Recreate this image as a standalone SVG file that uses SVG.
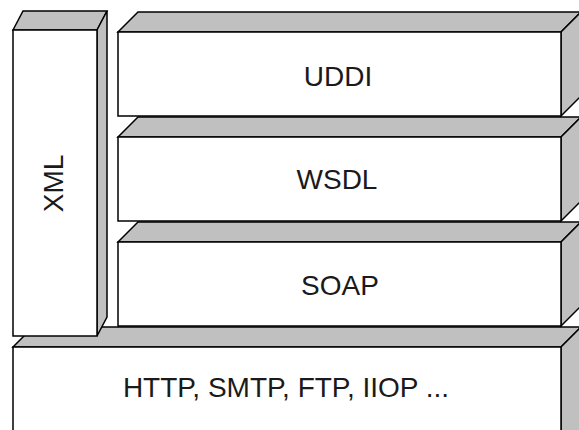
<svg xmlns="http://www.w3.org/2000/svg" width="579" height="430" viewBox="0 0 579 430">
<style>
.face{fill:#ffffff;stroke:#000;stroke-width:1.5;stroke-linejoin:miter}
.shade{fill:#c0c0c0;stroke:#000;stroke-width:1.5;stroke-linejoin:miter}
.lbl{font-family:"Liberation Sans",Arial,sans-serif;font-size:28px;fill:#1a1a1a;text-anchor:middle}
</style>
<rect width="579" height="430" fill="#fff"/>
<g id="http">
<polygon class="shade" points="13,347 33,327 581,327 561,347"/>
<polygon class="shade" points="561,347 581,327 581,450 561,450"/>
<rect class="face" x="13" y="347" width="548" height="100"/>
<text class="lbl" x="286" y="397">HTTP, SMTP, FTP, IIOP ...</text>
</g>
<g id="soap">
<polygon class="shade" points="118,242 138,222 581,222 561,242"/>
<polygon class="shade" points="561,242 581,222 581,306 561,326"/>
<rect class="face" x="118" y="242" width="443" height="84"/>
<text class="lbl" x="340" y="295">SOAP</text>
</g>
<g id="wsdl">
<polygon class="shade" points="118,137 138,117 581,117 561,137"/>
<polygon class="shade" points="561,137 581,117 581,201 561,221"/>
<rect class="face" x="118" y="137" width="443" height="84"/>
<text class="lbl" x="337" y="189">WSDL</text>
</g>
<g id="uddi">
<polygon class="shade" points="118,32 138,12 581,12 561,32"/>
<polygon class="shade" points="561,32 581,12 581,96 561,116"/>
<rect class="face" x="118" y="32" width="443" height="84"/>
<text class="lbl" x="338" y="86">UDDI</text>
</g>
<g id="xml">
<polygon class="shade" points="13,30 23,11 107,11 97,30"/>
<polygon class="shade" points="97,30 107,11 107,317 97,336"/>
<rect class="face" x="13" y="30" width="84" height="306"/>
<text class="lbl" transform="translate(63,183.5) rotate(-90)" x="0" y="0">XML</text>
</g>
<g id="connectors"></g>
</svg>
